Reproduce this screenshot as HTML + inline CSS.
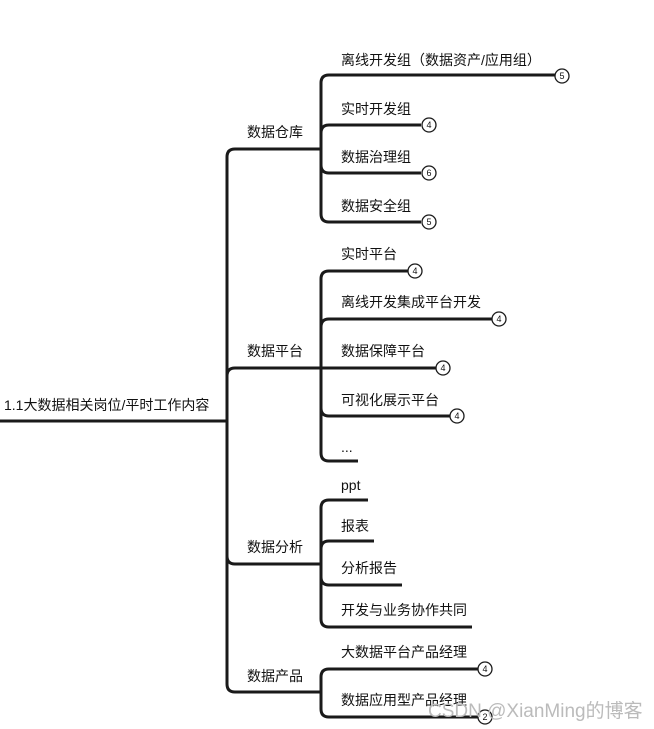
<!DOCTYPE html>
<html><head><meta charset="utf-8"><style>
html,body{margin:0;padding:0;background:#fff;}
svg{display:block;}
text{font-family:"Liberation Sans","Noto Sans CJK SC",sans-serif;font-size:14px;fill:#111;}
.c text{font-size:9px;}
</style></head><body>
<svg width="654" height="729" viewBox="0 0 654 729">
<g fill="none" stroke="#1a1a1a" stroke-width="3" stroke-linecap="butt">
<path d="M0 421 H227"/>
<path d="M235 149 Q227 149 227 157 V684 Q227 692 235 692 H321"/>
<path d="M235 368 Q227 368 227 376 V421"/>
<path d="M227 421 V556 Q227 564 235 564 H321"/>
<path d="M235 149 H321"/><path d="M235 368 H321"/>
<path d="M555 75 H329 Q321 75 321 83 V214 Q321 222 329 222 H421"/>
<path d="M321 133 Q321 125 329 125 H421"/>
<path d="M321 165 Q321 173 329 173 H421"/>
<path d="M408 271 H329 Q321 271 321 279 V453 Q321 461 329 461 H358"/>
<path d="M321 327 Q321 319 329 319 H492"/>
<path d="M321 368 H436"/>
<path d="M321 408 Q321 416 329 416 H450"/>
<path d="M368 500 H329 Q321 500 321 508 V619 Q321 627 329 627 H472"/>
<path d="M321 549 Q321 541 329 541 H374"/>
<path d="M321 577 Q321 585 329 585 H402"/>
<path d="M478 669 H329 Q321 669 321 677 V709 Q321 717 329 717 H478"/>
</g>
<g class="c" fill="#fff" stroke="#1a1a1a" stroke-width="1.3">
<circle cx="562" cy="76" r="7"/><circle cx="429" cy="125" r="7"/><circle cx="429" cy="173" r="7"/><circle cx="429" cy="222" r="7"/>
<circle cx="415" cy="271" r="7"/><circle cx="499" cy="319" r="7"/><circle cx="443" cy="368" r="7"/><circle cx="457" cy="416" r="7"/>
<circle cx="485" cy="669" r="7"/><circle cx="485" cy="717" r="7"/>
</g>
<g class="c" text-anchor="middle">
<text x="562" y="79">5</text><text x="429" y="128">4</text><text x="429" y="176">6</text><text x="429" y="225">5</text>
<text x="415" y="274">4</text><text x="499" y="322">4</text><text x="443" y="371">4</text><text x="457" y="419">4</text>
<text x="485" y="672">4</text><text x="485" y="720">2</text>
</g>
<text x="4" y="410">1.1大数据相关岗位/平时工作内容</text>
<text x="247" y="137">数据仓库</text>
<text x="247" y="356">数据平台</text>
<text x="247" y="552">数据分析</text>
<text x="247" y="681">数据产品</text>
<text x="341" y="65">离线开发组（数据资产/应用组）</text>
<text x="341" y="114">实时开发组</text>
<text x="341" y="162">数据治理组</text>
<text x="341" y="211">数据安全组</text>
<text x="341" y="259">实时平台</text>
<text x="341" y="307">离线开发集成平台开发</text>
<text x="341" y="356">数据保障平台</text>
<text x="341" y="405">可视化展示平台</text>
<text x="341" y="452">...</text>
<text x="341" y="490">ppt</text>
<text x="341" y="531">报表</text>
<text x="341" y="573">分析报告</text>
<text x="341" y="615">开发与业务协作共同</text>
<text x="341" y="657">大数据平台产品经理</text>
<text x="341" y="705">数据应用型产品经理</text>
<text x="428" y="717" style="font-size:19px;fill:#bbb">CSDN @XianMing的博客</text>
</svg>
</body></html>
